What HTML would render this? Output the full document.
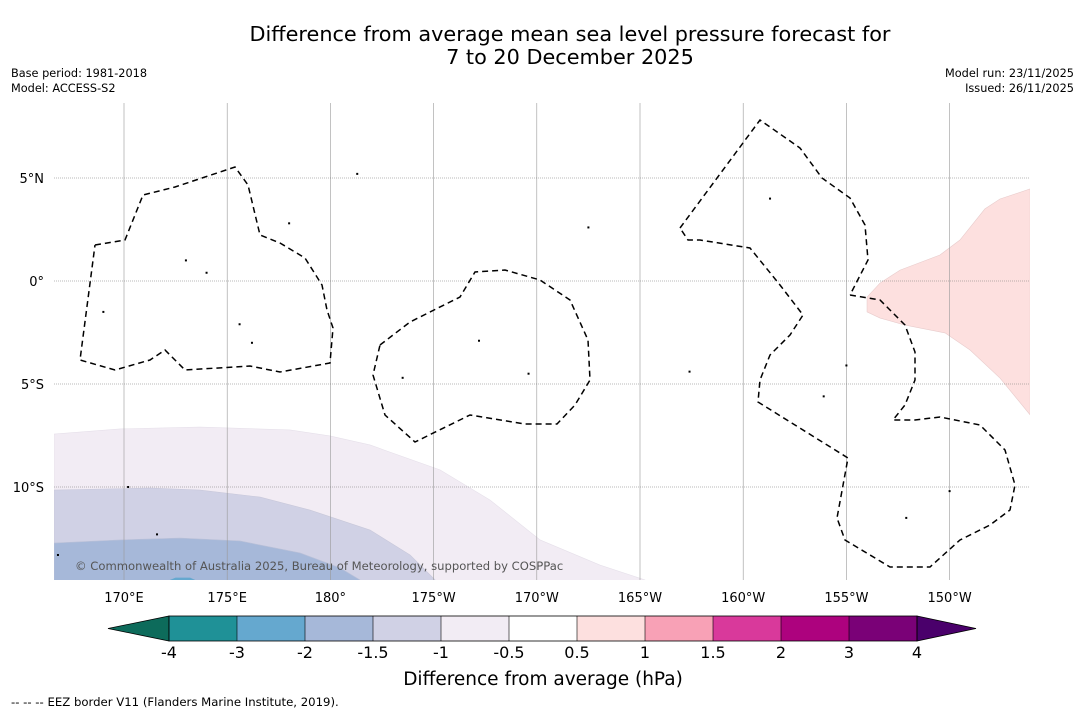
<!DOCTYPE html>
<html><head><meta charset="utf-8"><style>
body{margin:0;background:#fff;width:1085px;height:713px;overflow:hidden;font-family:"Liberation Sans","DejaVu Sans",sans-serif}
</style></head><body>
<svg id="chart" width="1085" height="713" xmlns="http://www.w3.org/2000/svg" font-family="DejaVu Sans, Liberation Sans, sans-serif">
<rect width="1085" height="713" fill="#fff"/>
<text x="570" y="41" font-size="20.8" text-anchor="middle">Difference from average mean sea level pressure forecast for</text>
<text x="570" y="64" font-size="20.8" text-anchor="middle">7 to 20 December 2025</text>
<text x="11" y="77" font-size="11.3">Base period: 1981-2018</text>
<text x="11" y="92" font-size="11.3">Model: ACCESS-S2</text>
<text x="1074" y="77" font-size="11.3" text-anchor="end">Model run: 23/11/2025</text>
<text x="1074" y="92" font-size="11.3" text-anchor="end">Issued: 26/11/2025</text>
<clipPath id="mc"><rect x="54" y="103" width="976" height="477"/></clipPath>
<g id="fills" clip-path="url(#mc)"></g>
<g id="grid"></g>
<g id="eez" clip-path="url(#mc)" fill="none" stroke="#000" stroke-width="1.5" stroke-dasharray="6,4">
<polyline points="95,245 125,240 143,195 175,187 235,167 248,185 260,235 280,243 305,258 322,285 327,310 333,328 330,363 280,372 250,366 185,370 165,350 150,360 115,370 80,360 95,245"/>
<polyline points="380,345 410,322 460,297 475,272 505,270 540,280 570,300 588,340 590,380 575,405 557,424 525,424 470,415 415,442 385,415 373,375 380,345"/>
<polyline points="680,228 760,120 800,148 822,178 850,198 865,225 868,260 850,295"/>
<polyline points="850,295 880,300 905,325 915,352 915,380 905,405 893,420 915,420 940,417 980,425 1005,450 1015,485 1010,510 990,525 960,540 930,567 890,567 845,540 837,518 848,458 758,402 760,380 770,355 790,335 803,315 780,285 750,248 700,240 688,240 680,228"/>
</g>
<g id="islands" fill="#000"></g>
<text x="75" y="570" font-size="11.6" fill="#555">© Commonwealth of Australia 2025, Bureau of Meteorology, supported by COSPPac</text>
<g id="cbar"></g>
<text x="543" y="685" font-size="18.5" text-anchor="middle">Difference from average (hPa)</text>
<text x="11" y="706" font-size="11.7">--  --  -- EEZ border V11 (Flanders Marine Institute, 2019).</text>
</svg>
<script>
// Contour data (lon east 0-360, lat)
const pinkLon=[213.9,212.44,211.71,210.5,209.53,207.6,206.63,206.0,206.0,206.63,207.84,209.78,210.99,212.44,213.9];
const pinkLat=[4.47,3.98,3.5,1.99,1.26,0.53,-0.1,-0.78,-1.5,-1.8,-2.14,-2.52,-3.35,-4.71,-6.5];
const c1Lon=[166.61,169.81,173.68,178.04,179.98,181.92,185.31,187.73,190.16,193.06,195.24];
const c1Lat=[-7.43,-7.18,-7.09,-7.23,-7.52,-7.96,-9.17,-10.63,-12.57,-13.79,-14.51];
const c15Lon=[166.61,171.26,173.68,176.59,179.01,181.92,183.86,185.07];
const c15Lat=[-10.15,-10.05,-10.15,-10.49,-11.12,-12.09,-13.3,-14.51];
const c2Lon=[166.61,169.81,172.71,175.62,178.53,180.47,181.43];
const c2Lat=[-12.72,-12.57,-12.48,-12.62,-13.2,-13.93,-14.51];
const c3Lon=[172.23,172.5,173.2,173.44];
const c3Lat=[-14.51,-14.4,-14.4,-14.51];
const lonTicks=[170,175,180,185,190,195,200,205,210];
const lonLabels=["170°E","175°E","180°","175°W","170°W","165°W","160°W","155°W","150°W"];
const latTicks=[5,0,-5,-10];
const latLabels=["5°N","0°","5°S","10°S"];
const levels=["-4","-3","-2","-1.5","-1","-0.5","0.5","1","1.5","2","3","4"];
const levelColors=["#1f9197","#65a8cf","#a6b8d9","#d0d1e5","#f2ecf4","#ffffff","#fde0df","#f8a1b6","#d9399b","#ad027e","#7a0177"];
const extMin="#0d6b5b", extMax="#4a006b";
const islandLon=[170.2,171.6,173.0,174.0,175.6,176.2,178.0,181.3,183.5,187.2,189.6,192.5,197.4,201.3,203.9,205.0,207.9,210.0,166.8,169.0];
const islandLat=[-10.0,-12.3,1.0,0.4,-2.1,-3.0,2.8,5.2,-4.7,-2.9,-4.5,2.6,-4.4,4.0,-5.6,-4.1,-11.5,-10.2,-13.3,-1.5];

const X=lon=>124+(lon-170)*20.64;
const Y=lat=>281-lat*20.6;
const NS="http://www.w3.org/2000/svg";
function mk(tag,attrs,parent){const e=document.createElementNS(NS,tag);for(const k in attrs)e.setAttribute(k,attrs[k]);parent.appendChild(e);return e;}
const fills=document.getElementById('fills');
function bottomPoly(lons,lats){let p=lons.map((l,i)=>X(l)+','+Y(lats[i]));p.push(X(lons[lons.length-1])+','+(Y(-14.51)+2));p.push(X(lons[0])+','+(Y(-14.51)+2));return p.join(' ');}
let e;
e=mk('polygon',{points:bottomPoly(c1Lon,c1Lat),fill:levelColors[4],stroke:"#e6e0ea",'stroke-width':0.6},fills);


e=mk('polygon',{points:bottomPoly(c15Lon,c15Lat),fill:levelColors[3],stroke:"#c8c8da",'stroke-width':0.6},fills);


e=mk('polygon',{points:bottomPoly(c2Lon,c2Lat),fill:levelColors[2],stroke:"#b9c0d8",'stroke-width':0.6},fills);


e=mk('polygon',{points:bottomPoly(c3Lon,c3Lat),fill:levelColors[1]},fills);


let pp=pinkLon.map((l,i)=>X(l)+','+Y(pinkLat[i]));
e=mk('polygon',{points:pp.join(' '),fill:levelColors[6],stroke:"#e8cccc",'stroke-width':0.6},fills);



const grid=document.getElementById('grid');
lonTicks.forEach((l,i)=>{const x=X(l);
 e=mk('line',{x1:x,x2:x,y1:103,y2:580,stroke:"#999",'stroke-width':0.6},grid);
 
 
 e=mk('text',{x:x,y:602,'font-size':13,'text-anchor':'middle'},grid);e.textContent=lonLabels[i];
 
 
});
latTicks.forEach((l,i)=>{const y=Y(l);
 e=mk('line',{x1:54,x2:1030,y1:y,y2:y,stroke:"#777",'stroke-width':0.6,'stroke-dasharray':"1,1"},grid);
 
 
 e=mk('text',{x:44,y:y+5,'font-size':13,'text-anchor':'end'},grid);e.textContent=latLabels[i];
 
 
});
const isl=document.getElementById('islands');
islandLon.forEach((l,i)=>{e=mk('rect',{x:X(l)-1,y:Y(islandLat[i])-1,width:2,height:2},isl);
 
 });

const cb=document.getElementById('cbar');
const x0=169,w=68,y0=616,h=25,n=levelColors.length;
e=mk('polygon',{points:`108,${y0+h/2} ${x0},${y0} ${x0},${y0+h}`,fill:extMin,stroke:"#000",'stroke-width':0.8},cb);


levelColors.forEach((c,i)=>{e=mk('rect',{x:x0+i*w,y:y0,width:w,height:h,fill:c},cb);
 
 });
e=mk('polygon',{points:`${x0+n*w},${y0} 976,${y0+h/2} ${x0+n*w},${y0+h}`,fill:extMax,stroke:"#000",'stroke-width':0.8},cb);


mk('rect',{x:x0,y:y0,width:n*w,height:h,fill:"none",stroke:"#000",'stroke-width':0.8},cb);
levels.forEach((t,i)=>{const x=x0+i*w;
 mk('line',{x1:x,x2:x,y1:y0,y2:y0+h,stroke:"#000",'stroke-width':0.6},cb);
 e=mk('text',{x:x,y:658,'font-size':16,'text-anchor':'middle'},cb);e.textContent=t;
 
 });
</script>
</body></html>
